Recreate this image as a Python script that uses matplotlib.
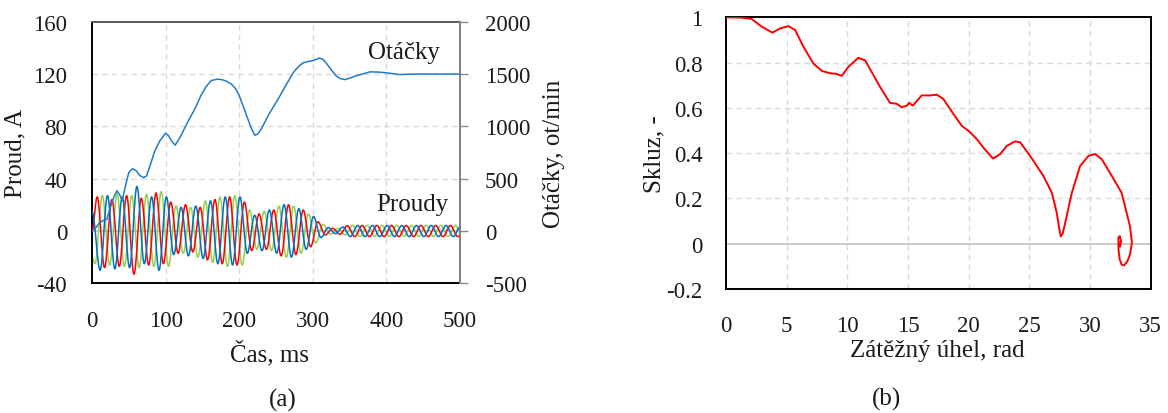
import matplotlib
matplotlib.use("Agg")
import matplotlib.pyplot as plt
from matplotlib.path import Path
from matplotlib.patches import PathPatch
from matplotlib.ticker import FixedLocator, FixedFormatter

plt.rcParams["font.family"] = ["Liberation Serif", "DejaVu Serif"]
plt.rcParams["axes.unicode_minus"] = False

# (a) phase currents, turning points of each phase [ms, A]
red_t = [0, 7, 17, 27, 37, 47, 57, 67, 77, 87, 97, 107, 117, 127, 137, 147, 157, 167, 177, 187,
         197, 207, 217, 227, 237, 247, 257, 267, 277, 287, 297, 307, 317, 327, 337, 347, 357, 367,
         377, 387, 397, 407, 417, 427, 437, 447, 457, 467, 477, 487, 497, 500]
red_i = [0, 26, -28, 24, -27, 27, -33, 25, -26, 29, -25, 22, -17, 20, -16, 18, -22, 24, -25, 26,
         -26, 22, -15, 13, -14, 16, -19, 20, -18, 16, -12, 7, -3, 2, -2.5, 4, -4.3, 4.2,
         -4.3, 4.2, -4.3, 4.2, -4.3, 4.2, -4.3, 4.2, -4.3, 4.2, -4.3, 4.2, -4.3, -3.5]

green_t = [0, 4, 14, 24, 34, 44, 54, 64, 74, 84, 94, 104, 114, 124, 134, 144, 154, 164, 174, 184,
           194, 204, 214, 224, 234, 244, 254, 264, 274, 284, 294, 304, 314, 324, 334, 344, 354, 364,
           374, 384, 394, 404, 414, 424, 434, 444, 454, 464, 474, 484, 494, 500]
green_i = [-20, -25, 27, -26, 28, -27, 27, -28, 28, -27, 30, -27, 19, -17, 18, -20, 23, -24, 26, -27,
           27, -26, 16, -14, 15, -15, 19, -20, 19, -17, 13, -9, 5, -2.5, 2, -3, 4.3, -4.2,
           4.3, -4.2, 4.3, -4.2, 4.3, -4.2, 4.3, -4.2, 4.3, -4.2, 4.3, -4.2, 4.3, -1]

blue_t = [0, 11, 21, 31, 41, 51, 61, 71, 81, 91, 101, 111, 121, 131, 141, 151, 161, 171, 181, 191,
          201, 211, 221, 231, 241, 251, 261, 271, 281, 291, 301, 311, 321, 331, 341, 351, 361, 371,
          381, 391, 401, 411, 421, 431, 441, 451, 461, 471, 481, 491, 500]
blue_i = [15, -30, 27, -29, 26, -28, 34, -25, 26, -30, 26, -18, 18, -19, 19, -21, 23, -25, 26, -26,
          26, -17, 12, -15, 16, -17, 20, -20, 17, -14, 11, -5, 2.5, -2, 3, -4.3, 4.2, -4.3,
          4.2, -4.3, 4.2, -4.3, 4.2, -4.3, 4.2, -4.3, 4.2, -4.3, 4.2, -4.3, 3]

# (a) rotor speed [ms, ot/min]
speed_t = [0, 5, 10, 15, 20, 25, 30, 34, 38, 41, 45, 50, 55, 60, 65, 70, 74, 80, 85, 92,
           100, 104, 108, 113, 120, 130, 140, 148, 155, 162, 170, 176, 183, 189, 195, 200, 205, 210,
           216, 221, 225, 230, 240, 253, 264, 274, 281, 287, 294, 301, 309, 314, 319, 325, 332, 338,
           344, 352, 360, 370, 378, 390, 400, 418, 445, 470, 500]
speed_n = [0, 30, 75, 100, 110, 230, 330, 385, 340, 290, 420, 560, 595, 575, 530, 510, 525, 650, 760, 860,
           935, 910, 860, 820, 900, 1040, 1170, 1294, 1380, 1438, 1450, 1447, 1430, 1406, 1360, 1294, 1200, 1103,
           990, 915, 925, 975, 1110, 1262, 1400, 1518, 1575, 1607, 1620, 1629, 1652, 1640, 1598, 1540, 1480, 1455,
           1447, 1465, 1486, 1505, 1521, 1518, 1511, 1495, 1500, 1500, 1500]

# (b) slip versus load angle
angle = [0, 1.15, 2.1, 2.94, 3.82, 4.45, 5.14, 5.69, 6.38, 7.2, 7.9, 8.57, 9.12, 9.54, 10.08, 10.9,
         11.46, 12.7, 13.52, 14.07, 14.48, 14.9, 15.1, 15.39, 16.13, 16.8, 17.37, 17.9, 18.74, 19.43,
         20.12, 20.67, 21.2, 22.0, 22.6, 23.14, 23.82, 24.24, 25.06, 26.16, 26.85, 27.26, 27.45, 27.59,
         27.75, 27.95, 28.5, 29.18, 29.87, 30.42, 30.97, 31.8, 32.6, 33.0, 33.3, 33.45, 33.3, 33.08,
         32.8, 32.6, 32.45, 32.34, 32.34, 32.45, 32.56, 32.47, 32.39]
slip = [1.0, 0.999, 0.993, 0.959, 0.932, 0.951, 0.961, 0.944, 0.870, 0.796, 0.763, 0.753, 0.75, 0.741,
        0.781, 0.821, 0.81, 0.692, 0.622, 0.618, 0.603, 0.61, 0.622, 0.61, 0.655, 0.655, 0.658, 0.64,
        0.573, 0.521, 0.492, 0.462, 0.425, 0.376, 0.396, 0.432, 0.452, 0.448, 0.388, 0.299, 0.225, 0.136,
        0.07, 0.032, 0.045, 0.092, 0.225, 0.343, 0.388, 0.396, 0.373, 0.299, 0.225, 0.14, 0.075, 0.005,
        -0.047, -0.077, -0.096, -0.092, -0.07, -0.025, 0.027, 0.034, 0.012, -0.013, 0.004]

left_yticks = [-40, 0, 40, 80, 120, 160]
right_yticks = [-500, 0, 500, 1000, 1500, 2000]
left_xticks = [0, 100, 200, 300, 400, 500]
b_xticks = [0, 5, 10, 15, 20, 25, 30, 35]
b_yticks = [-0.2, 0, 0.2, 0.4, 0.6, 0.8, 1.0]
b_ylabels = ["-0.2", "0", "0.2", "0.4", "0.6", "0.8", "1"]

text_c = "#1a1a1a"
grid_c = "#d9d9d9"
fs = 18      # axis titles and annotations
fs_tick = 16.5


def wave_path(t, v):
    # smooth cubic segments between successive turning points
    verts = [(t[0], v[0])]
    codes = [Path.MOVETO]
    for i in range(1, len(t)):
        dt = t[i] - t[i - 1]
        verts += [(t[i - 1] + 0.36 * dt, v[i - 1]), (t[i] - 0.36 * dt, v[i]), (t[i], v[i])]
        codes += [Path.CURVE4] * 3
    return Path(verts, codes)


fig = plt.figure(figsize=(11.68, 4.14), dpi=100)

# ---- (a) currents + speed ----
ax = fig.add_axes([0.0788, 0.3133, 0.315, 0.6319])
ax2 = ax.twinx()

for v in left_xticks[1:-1]:
    ax.axvline(v, color=grid_c, lw=1.0, ls=(0, (4, 3)), zorder=0)
for v in [40, 80, 120]:
    ax.axhline(v, color=grid_c, lw=1.0, ls=(0, (4, 3)), zorder=0)
ax.axhline(0, color="#bfbfbf", lw=1.2, zorder=0)

for tt, ii, col, z in [(green_t, green_i, "#92d050", 2),
                       (red_t, red_i, "#ff0000", 3),
                       (blue_t, blue_i, "#0070c0", 4)]:
    ax.add_patch(PathPatch(wave_path(tt, ii), fill=False, edgecolor=col, lw=1.1, zorder=z))
ax2.plot(speed_t, speed_n, color="#1f7ac9", lw=1.1)

ax.set_xlim(0, 500)
ax.set_ylim(-40, 160)
ax2.set_ylim(-500, 2000)
ax.set_xticks(left_xticks)
ax.set_yticks(left_yticks)
ax2.set_yticks(right_yticks)
ax.tick_params(axis="both", length=0, labelsize=fs_tick, colors=text_c)
ax.tick_params(axis="y", pad=18)
ax.tick_params(axis="x", pad=19)
ax2.tick_params(axis="y", length=6, width=1.0, color="#8c8c8c", labelsize=fs_tick,
                labelcolor=text_c, pad=12)

for s in ["left", "bottom"]:
    ax.spines[s].set_color("#000000")
    ax.spines[s].set_linewidth(1.4)
ax.spines["top"].set_color("#595959")
ax.spines["top"].set_linewidth(1.4)
ax.spines["right"].set_visible(False)
for s in ["left", "bottom", "top"]:
    ax2.spines[s].set_visible(False)
ax2.spines["right"].set_color("#7f7f7f")
ax2.spines["right"].set_linewidth(1.4)

ax.set_ylabel("Proud, A", fontsize=fs, color=text_c)
ax.yaxis.set_label_coords(-0.177, 0.5)
ax2.set_ylabel("Otáčky, ot/min", fontsize=fs, color=text_c)
ax2.yaxis.set_label_coords(1.2255, 0.5)
ax.set_xlabel("Čas, ms", fontsize=fs, color=text_c)
ax.xaxis.set_label_coords(0.481, -0.217)

ax.text(473, 137, "Otáčky", fontsize=fs, color=text_c, ha="right", va="center", zorder=5)
ax.text(484, 20.5, "Proudy", fontsize=fs, color=text_c, ha="right", va="center", zorder=5)

# ---- (b) slip vs load angle ----
bx = fig.add_axes([0.6216, 0.2995, 0.3636, 0.6563])
for v in b_xticks[1:-1]:
    bx.axvline(v, color=grid_c, lw=1.0, ls=(0, (4, 3)), zorder=0)
for v in [0.2, 0.4, 0.6, 0.8]:
    bx.axhline(v, color=grid_c, lw=1.0, ls=(0, (4, 3)), zorder=0)
bx.axhline(0, color="#bfbfbf", lw=1.2, zorder=0)

bx.plot(angle, slip, color="#ff0000", lw=1.4, zorder=3)

bx.set_xlim(0, 35)
bx.set_ylim(-0.2, 1.0)
bx.set_xticks(b_xticks)
bx.yaxis.set_major_locator(FixedLocator(b_yticks))
bx.yaxis.set_major_formatter(FixedFormatter(b_ylabels))
bx.tick_params(axis="both", length=0, labelsize=fs_tick, colors=text_c)
bx.tick_params(axis="y", pad=17)
bx.tick_params(axis="x", pad=18.5)
for s in bx.spines.values():
    s.set_color("#000000")
    s.set_linewidth(1.4)

bx.set_ylabel("Skluz, -", fontsize=fs, color=text_c)
bx.yaxis.set_label_coords(-0.1436, 0.5)
bx.set_xlabel("Zátěžný úhel, rad", fontsize=fs, color=text_c)
bx.xaxis.set_label_coords(0.498, -0.184)

fig.text(282.5 / 1168, 1 - 400 / 414, "(a)", fontsize=fs, color=text_c, ha="center", va="center")
fig.text(886.7 / 1168, 1 - 399 / 414, "(b)", fontsize=fs, color=text_c, ha="center", va="center")

fig.savefig("out.png", dpi=100, facecolor="white")
plt.close(fig)
